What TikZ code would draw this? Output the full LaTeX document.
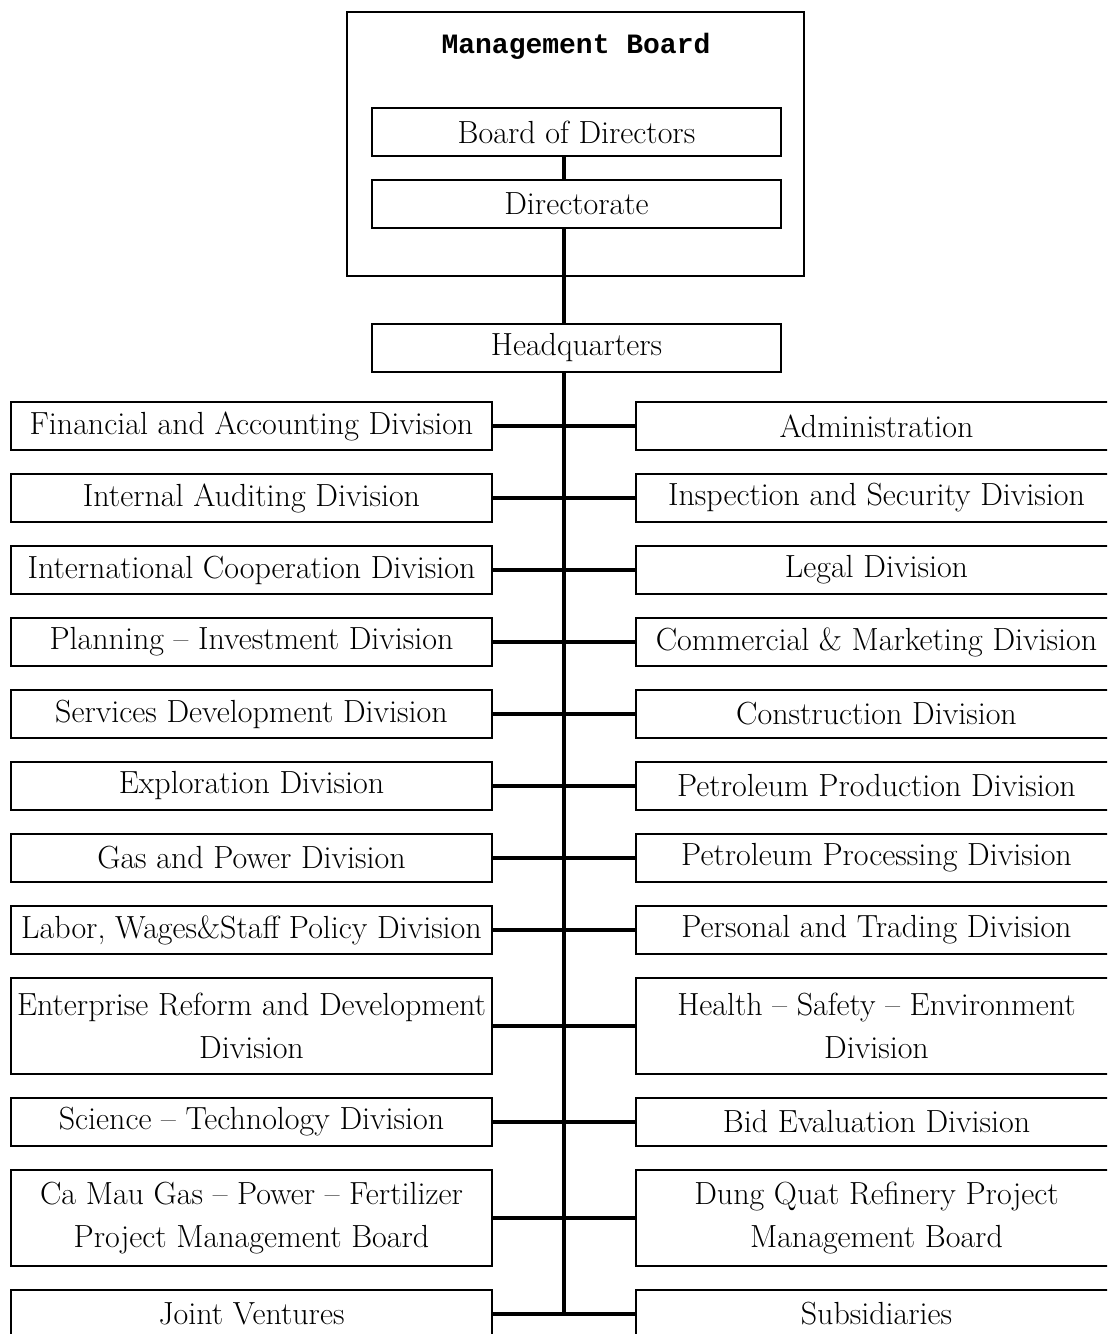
\documentclass[tikz,border=0pt]{standalone}
\usepackage{fontspec}
\newfontfamily\courbold{Liberation Mono}
\begin{document}
\begin{tikzpicture}[x=0.75pt,y=-0.75pt,
  unit/.style={draw, line width=1pt, inner sep=0pt, align=center,
    minimum width=360.75pt, minimum height=36pt,
    font=\fontsize{24}{32.25}\selectfont},
  tall/.style={unit, minimum height=72pt},
  topunit/.style={unit, minimum width=306.75pt},
  link/.style={line width=2.3pt}]
\clip (0,0) rectangle (1107,1334);

% management board frame and its members
\node[draw, line width=1pt, minimum width=342.75pt, minimum height=198pt, inner sep=0pt] (mb) at (575.5,144) {};
\node[font=\courbold\bfseries\fontsize{21}{25}\selectfont] (mbt) at (576,46) {Management Board};
\node[topunit] (bod) at (576.5,132) {Board of Directors};
\node[topunit] (dir) at (576.5,204) {Directorate};
\node[topunit] (hq) at (576.5,348) {Headquarters};

\coordinate (tk) at (564,0);
\coordinate (tend) at (564,1314);

% left column
\node[unit] (l1) at (251.5,426) {Financial and Accounting Division};
\node[unit] (l2) at (251.5,498) {Internal Auditing Division};
\node[unit] (l3) at (251.5,570) {International Cooperation Division};
\node[unit] (l4) at (251.5,642) {Planning -- Investment Division};
\node[unit] (l5) at (251.5,714) {Services Development Division};
\node[unit] (l6) at (251.5,786) {Exploration Division};
\node[unit] (l7) at (251.5,858) {Gas and Power Division};
\node[unit] (l8) at (251.5,930) {Labor, Wages\&Staff Policy Division};
\node[tall] (l9) at (251.5,1026) {Enterprise Reform and Development\\Division};
\node[unit] (l10) at (251.5,1122) {Science -- Technology Division};
\node[tall] (l11) at (251.5,1218) {Ca Mau Gas -- Power -- Fertilizer\\Project Management Board};
\node[unit] (l12) at (251.5,1314) {Joint Ventures};

% right column
\node[unit] (r1) at (876.5,426) {Administration};
\node[unit] (r2) at (876.5,498) {Inspection and Security Division};
\node[unit] (r3) at (876.5,570) {Legal Division};
\node[unit] (r4) at (876.5,642) {Commercial \& Marketing Division};
\node[unit] (r5) at (876.5,714) {Construction Division};
\node[unit] (r6) at (876.5,786) {Petroleum Production Division};
\node[unit] (r7) at (876.5,858) {Petroleum Processing Division};
\node[unit] (r8) at (876.5,930) {Personal and Trading Division};
\node[tall] (r9) at (876.5,1026) {Health -- Safety -- Environment\\Division};
\node[unit] (r10) at (876.5,1122) {Bid Evaluation Division};
\node[tall] (r11) at (876.5,1218) {Dung Quat Refinery Project\\Management Board};
\node[unit] (r12) at (876.5,1314) {Subsidiaries};

% vertical trunk
\draw[link] (bod.south -| tk) -- (dir.north -| tk);
\draw[link] (dir.south -| tk) -- (hq.north -| tk);
\draw[link] (hq.south -| tk) -- (tend);

% horizontal branches
\foreach \i in {1,...,12}{
  \draw[link] (l\i.east) -- (r\i.west);
}
\end{tikzpicture}
\end{document}
